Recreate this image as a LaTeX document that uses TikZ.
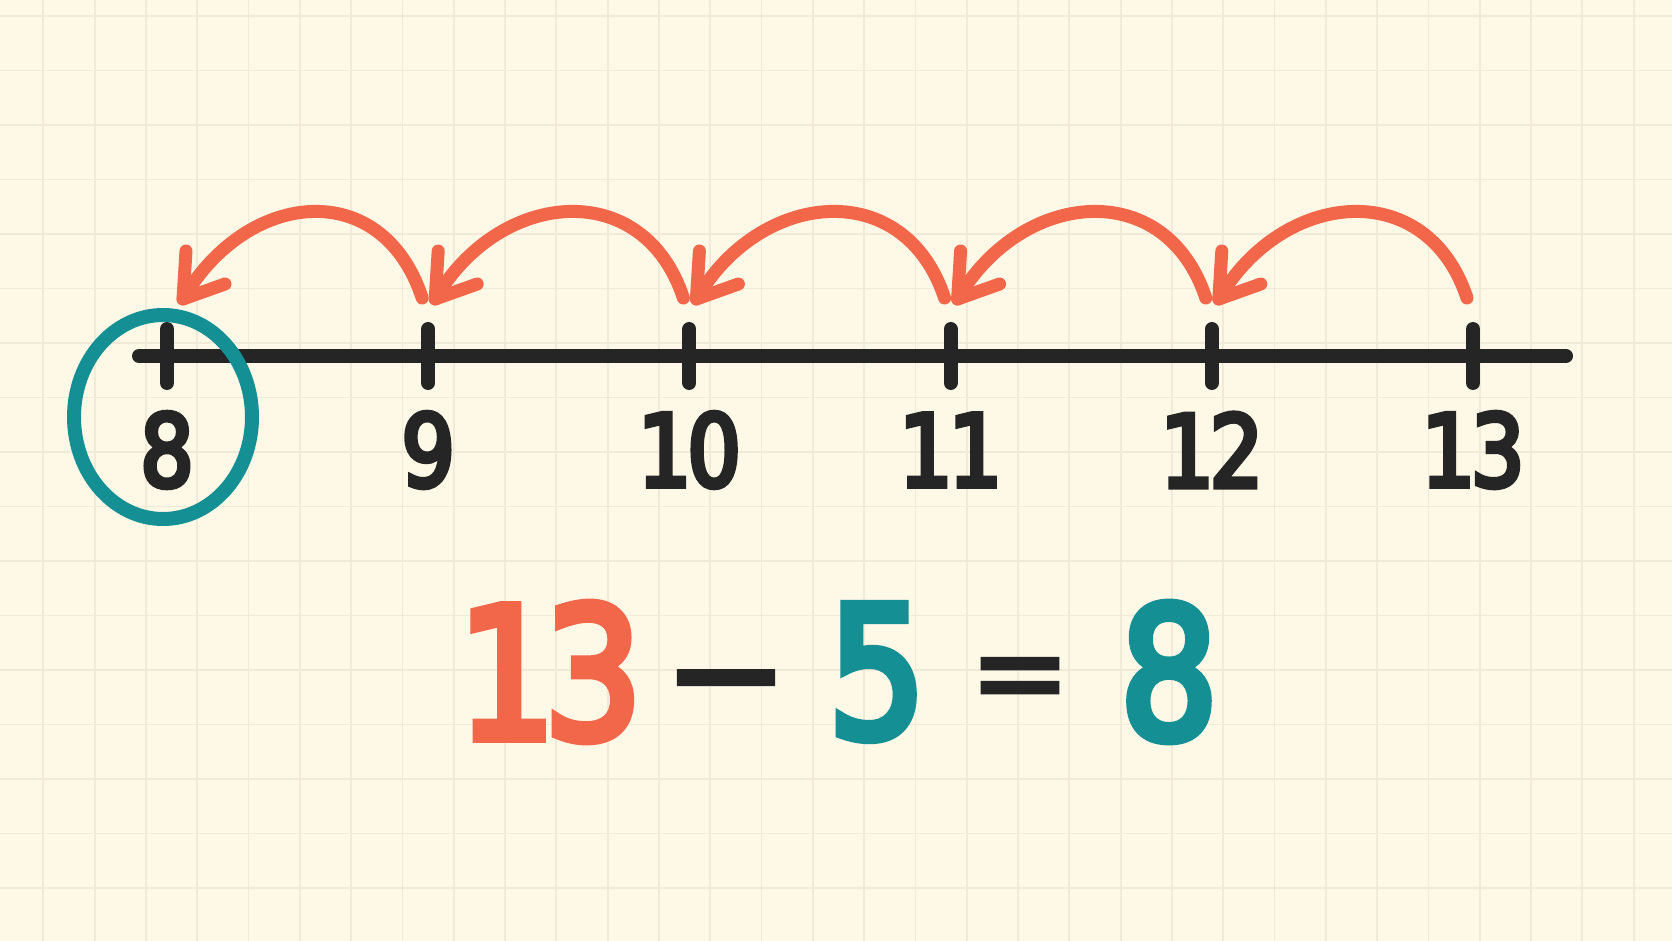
\documentclass[tikz,border=0pt]{standalone}
\usepackage{fontspec}
\newfontfamily\numfont[FakeStretch=0.84,FakeBold=5]{DejaVu Sans}
\newfontfamily\opfont[FakeBold=3]{DejaVu Sans}
\definecolor{bgc}{HTML}{FEF8E7}
\definecolor{gridc}{HTML}{F2EAD8}
\definecolor{inkc}{HTML}{252525}
\definecolor{arrowc}{HTML}{F2664A}
\definecolor{ringc}{HTML}{148F94}
\begin{document}
\begin{tikzpicture}[x=0.5pt,y=-0.5pt,
  jump/.style={draw=arrowc, line width=6.5pt, line cap=round, line join=round},
  tickmark/.style={draw=inkc, line width=7pt, line cap=round},
  lab/.style={font=\numfont\fontsize{50}{50}\selectfont, text=inkc, inner sep=0pt, anchor=center},
  eq/.style={font=\numfont\fontsize{91}{91}\selectfont, inner sep=0pt, anchor=center},
  op/.style={font=\opfont\fontsize{#1}{#1}\selectfont, text=inkc, inner sep=0pt, anchor=center},
  ]
\useasboundingbox (0,0) rectangle (1672,941);
\fill[bgc] (0,0) rectangle (1672,941);
\begin{scope}
\clip (0,0) rectangle (1672,941);
\foreach \i in {0,...,32} \draw[gridc, line width=0.9pt] ({43.3+51.3*\i},0) -- ++(0,941);
\foreach \j in {0,...,17} \draw[gridc, line width=0.9pt] (0,{16+54.5*\j}) -- ++(1672,0);
\end{scope}
% tick positions
\foreach \n [count=\k from 0] in {8,...,13} \coordinate (t\n) at ({167+261.2*\k},356);
% arcs: tails and heads
\foreach \n in {9,...,13} \coordinate (a\n) at ([xshift=-3pt, yshift=29pt]t\n);
\foreach \n in {9,...,12} \coordinate (h\n) at ([xshift=3.5pt, yshift=28.5pt]t\n);
\coordinate (h8) at ([xshift=8pt, yshift=28.5pt]t8);
\foreach \n/\m in {13/12,12/11,11/10,10/9,9/8}{
  \draw[jump] (a\n) .. controls +(-40,-122) and +(64,-110) .. (h\m);
  \draw[jump] ([shift={(3,-48)}]h\m) -- (h\m) -- ([shift={(42,-15)}]h\m);
}
% number line
\coordinate (L) at (139,356);
\coordinate (R) at (1566,356);
\draw[tickmark] (L) -- (R);
\foreach \n in {8,...,13} \draw[tickmark] (t\n) ++(0,-27) -- ++(0,54);
% labels
\foreach \n/\t in {8/8,9/9,10/1\kern-.04em0,11/1\kern-.04em1,12/1\kern-.04em2,13/1\kern-.04em3}
  \node[lab] (n\n) at ([yshift=-47pt]t\n) {\t};
% ring round 8
\coordinate (c8) at (163,417);
\draw[ringc, line width=7pt] (c8) ellipse [x radius=89, y radius=102];
% equation
\node[eq, text=arrowc] (e13) at (550,672) {1\kern-.06em3};
\node[op=75] (minus) at (726,698) {−};
\node[eq, text=ringc] (e5) at (877,672) {5};
\node[op=60] (eqs) at (1020,686) {=};
\node[eq, text=ringc] (e8) at (1169,672) {8};
\end{tikzpicture}
\end{document}
